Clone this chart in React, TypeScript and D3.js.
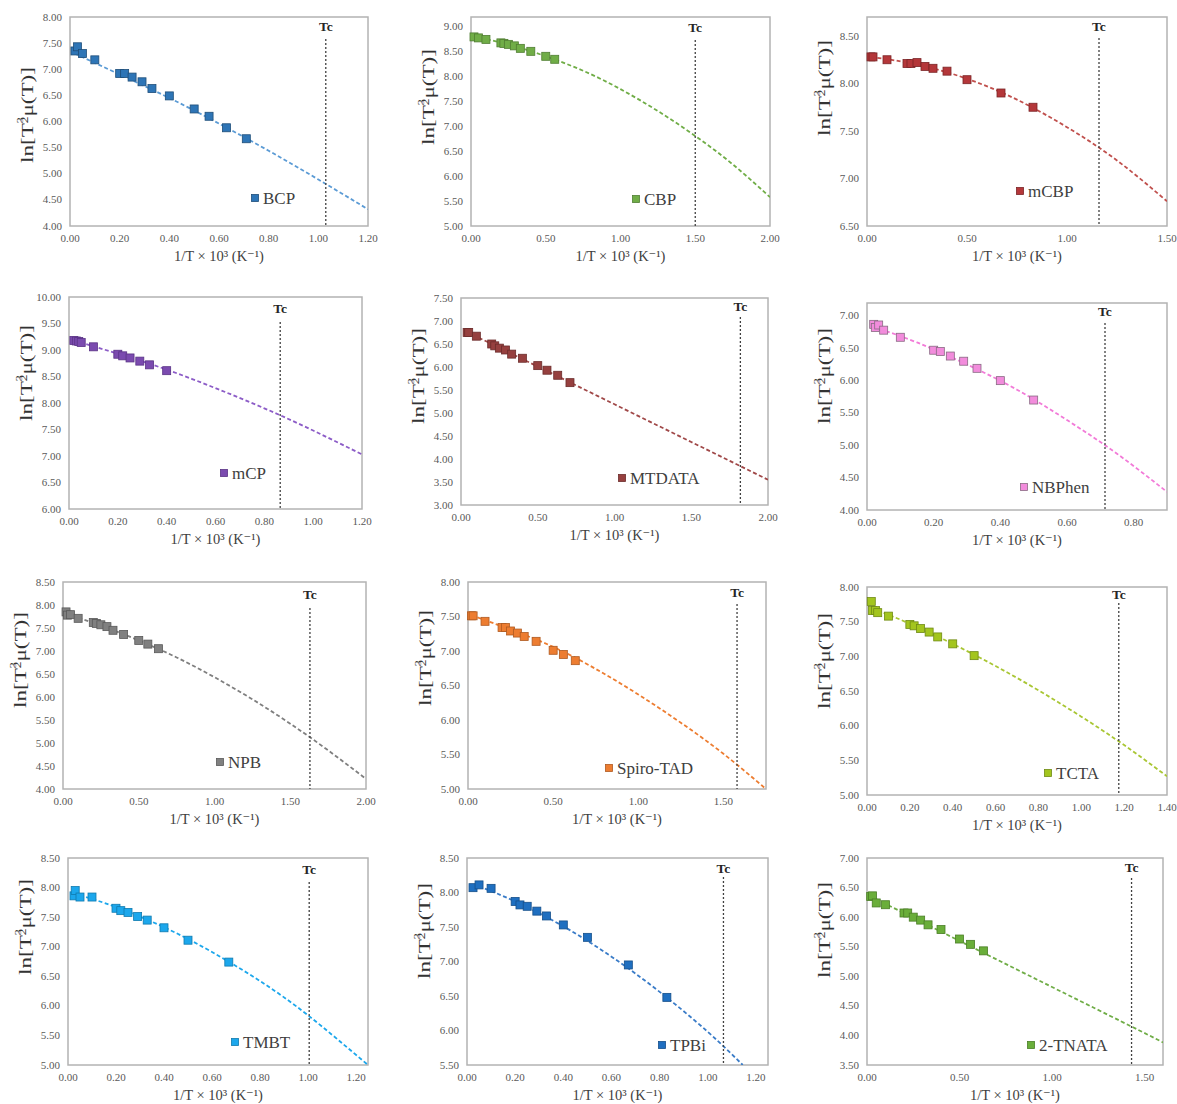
import React from 'react';
import * as d3 from 'd3';

const materials = ['BCP', 'CBP', 'mCBP', 'mCP', 'MTDATA', 'NBPhen', 'NPB', 'Spiro-TAD', 'TCTA', 'TMBT', 'TPBi', '2-TNATA'];

// measured points (x = 1/T x 10^3, y = ln[T^3/2 mu(T)])
const bcpX = [0.02, 0.03, 0.05, 0.10, 0.20, 0.22, 0.25, 0.29, 0.33, 0.40, 0.50, 0.56, 0.63, 0.71];
const bcpY = [7.35, 7.43, 7.30, 7.18, 6.92, 6.92, 6.85, 6.76, 6.63, 6.49, 6.24, 6.10, 5.88, 5.67];
const cbpX = [0.02, 0.05, 0.10, 0.20, 0.22, 0.25, 0.29, 0.33, 0.40, 0.50, 0.56];
const cbpY = [8.80, 8.78, 8.75, 8.68, 8.67, 8.65, 8.62, 8.57, 8.51, 8.41, 8.35];
const mcbpX = [0.02, 0.03, 0.10, 0.20, 0.22, 0.25, 0.29, 0.33, 0.40, 0.50, 0.67, 0.83];
const mcbpY = [8.28, 8.28, 8.25, 8.21, 8.21, 8.22, 8.18, 8.16, 8.13, 8.04, 7.90, 7.75];
const mcpX = [0.02, 0.03, 0.04, 0.05, 0.10, 0.20, 0.22, 0.25, 0.29, 0.33, 0.40];
const mcpY = [9.18, 9.17, 9.16, 9.14, 9.06, 8.92, 8.89, 8.85, 8.79, 8.72, 8.61];
const mtdataX = [0.04, 0.05, 0.10, 0.20, 0.22, 0.25, 0.29, 0.33, 0.40, 0.50, 0.56, 0.63, 0.71];
const mtdataY = [6.75, 6.75, 6.67, 6.50, 6.46, 6.41, 6.37, 6.28, 6.19, 6.03, 5.93, 5.82, 5.66];
const nbphenX = [0.02, 0.025, 0.035, 0.05, 0.10, 0.20, 0.22, 0.25, 0.29, 0.33, 0.40, 0.50];
const nbphenY = [6.87, 6.82, 6.86, 6.78, 6.67, 6.47, 6.45, 6.38, 6.30, 6.19, 6.00, 5.70];
const npbX = [0.02, 0.03, 0.05, 0.10, 0.20, 0.22, 0.25, 0.29, 0.33, 0.40, 0.50, 0.56, 0.63];
const npbY = [7.85, 7.78, 7.79, 7.71, 7.62, 7.60, 7.57, 7.53, 7.45, 7.36, 7.23, 7.15, 7.05];
const spiroX = [0.02, 0.03, 0.10, 0.20, 0.22, 0.25, 0.29, 0.33, 0.40, 0.50, 0.56, 0.63];
const spiroY = [7.51, 7.51, 7.43, 7.34, 7.34, 7.29, 7.26, 7.21, 7.14, 7.01, 6.95, 6.86];
const tctaX = [0.02, 0.025, 0.04, 0.05, 0.10, 0.20, 0.22, 0.25, 0.29, 0.33, 0.40, 0.50];
const tctaY = [7.79, 7.66, 7.66, 7.63, 7.58, 7.46, 7.44, 7.40, 7.35, 7.28, 7.18, 7.01];
const tmbtX = [0.025, 0.03, 0.05, 0.10, 0.20, 0.22, 0.25, 0.29, 0.33, 0.40, 0.50, 0.67];
const tmbtY = [7.86, 7.95, 7.84, 7.84, 7.65, 7.61, 7.58, 7.51, 7.45, 7.32, 7.11, 6.74];
const tpbiX = [0.025, 0.05, 0.10, 0.20, 0.22, 0.25, 0.29, 0.33, 0.40, 0.50, 0.67, 0.83];
const tpbiY = [8.07, 8.11, 8.06, 7.87, 7.82, 7.80, 7.73, 7.66, 7.53, 7.35, 6.95, 6.48];
const tnataX = [0.02, 0.03, 0.05, 0.10, 0.20, 0.22, 0.25, 0.29, 0.33, 0.40, 0.50, 0.56, 0.63];
const tnataY = [6.35, 6.36, 6.24, 6.21, 6.07, 6.07, 6.00, 5.95, 5.87, 5.79, 5.63, 5.54, 5.43];

// fitted dashed curves
const bcpFitX = [0.02, 0.2, 0.4, 0.6, 0.8, 1.0, 1.2];
const bcpFitY = [7.30, 6.90, 6.45, 5.96, 5.44, 4.89, 4.32];
const cbpFitX = [0.02, 0.25, 0.5, 0.75, 1.0, 1.25, 1.5, 1.75, 2.0];
const cbpFitY = [8.80, 8.65, 8.41, 8.12, 7.75, 7.31, 6.81, 6.24, 5.58];
const mcbpFitX = [0.02, 0.25, 0.5, 0.75, 1.0, 1.25, 1.5];
const mcbpFitY = [8.28, 8.20, 8.05, 7.83, 7.54, 7.19, 6.76];
const mcpFitX = [0.02, 0.2, 0.4, 0.6, 0.8, 1.0, 1.2];
const mcpFitY = [9.18, 8.93, 8.63, 8.28, 7.90, 7.48, 7.03];
const mtdataFitX = [0.04, 0.5, 1.0, 1.5, 2.0];
const mtdataFitY = [6.76, 6.01, 5.19, 4.37, 3.55];
const nbphenFitX = [0.02, 0.15, 0.3, 0.45, 0.6, 0.75, 0.9];
const nbphenFitY = [6.83, 6.59, 6.25, 5.86, 5.39, 4.87, 4.28];
const npbFitX = [0.02, 0.25, 0.5, 0.75, 1.0, 1.25, 1.5, 1.75, 2.0];
const npbFitY = [7.81, 7.55, 7.23, 6.86, 6.43, 5.95, 5.42, 4.84, 4.22];
const spiroFitX = [0.02, 0.25, 0.5, 0.75, 1.0, 1.25, 1.5, 1.75];
const spiroFitY = [7.52, 7.31, 7.06, 6.74, 6.37, 5.96, 5.51, 5.00];
const tctaFitX = [0.05, 0.2, 0.4, 0.6, 0.8, 1.0, 1.2, 1.4];
const tctaFitY = [7.66, 7.47, 7.18, 6.86, 6.51, 6.13, 5.72, 5.27];
const tmbtFitX = [0.05, 0.2, 0.4, 0.6, 0.8, 1.0, 1.25];
const tmbtFitY = [7.87, 7.67, 7.33, 6.91, 6.42, 5.84, 5.00];
const tpbiFitX = [0.05, 0.2, 0.4, 0.6, 0.8, 1.0, 1.145];
const tpbiFitY = [8.09, 7.87, 7.51, 7.07, 6.56, 5.98, 5.50];
const tnataFitX = [0.02, 0.8, 1.43, 1.6];
const tnataFitY = [6.35, 5.13, 4.15, 3.88];

const tcValues = [1.03, 1.50, 1.16, 0.865, 1.82, 0.714, 1.63, 1.58, 1.175, 1.005, 1.065, 1.43];
const xMaxes = [1.2, 2.0, 1.5, 1.2, 2.0, 0.9, 2.0, 1.75, 1.4, 1.25, 1.25, 1.6];
const xSteps = [0.2, 0.5, 0.5, 0.2, 0.5, 0.2, 0.5, 0.5, 0.2, 0.2, 0.2, 0.5];
const yMins = [4, 5, 6.5, 6, 3, 4, 4, 5, 5, 5, 5.5, 3.5];
const yTickMaxes = [8, 9, 8.5, 10, 7.5, 7, 8.5, 8, 8, 8.5, 8.5, 7];
const yTops = [8, 9.2, 8.7, 10, 7.5, 7.2, 8.5, 8, 8, 8.5, 8.5, 7];

const pointXs = [bcpX, cbpX, mcbpX, mcpX, mtdataX, nbphenX, npbX, spiroX, tctaX, tmbtX, tpbiX, tnataX];
const pointYs = [bcpY, cbpY, mcbpY, mcpY, mtdataY, nbphenY, npbY, spiroY, tctaY, tmbtY, tpbiY, tnataY];
const fitXs = [bcpFitX, cbpFitX, mcbpFitX, mcpFitX, mtdataFitX, nbphenFitX, npbFitX, spiroFitX, tctaFitX, tmbtFitX, tpbiFitX, tnataFitX];
const fitYs = [bcpFitY, cbpFitY, mcbpFitY, mcpFitY, mtdataFitY, nbphenFitY, npbFitY, spiroFitY, tctaFitY, tmbtFitY, tpbiFitY, tnataFitY];

// styles
const markerFill = ['#2E75B6', '#70AD47', '#B4373A', '#7B4BAF', '#96403F', '#F28CDC', '#808080', '#ED7D31', '#A3C51E', '#1CA7EC', '#1F6FC0', '#6AAE3A'];
const markerStroke = ['#1F4E79', '#507E32', '#7B2527', '#5A3386', '#6B2C2B', '#8A6A84', '#595959', '#AE5A21', '#6F8A14', '#0F7AAF', '#154F8A', '#4A7E26'];
const lineColor = ['#5B9BD5', '#70AD47', '#C0504D', '#8C5CC7', '#A04848', '#F27BD8', '#7F7F7F', '#ED7D31', '#A9C634', '#1CA7EC', '#3A7CC8', '#70AD47'];

// layout: [left, right, top, bottom]
const boxes = [
  [70, 368, 17, 226], [471, 770, 17, 226], [867, 1167, 17, 226],
  [69, 362, 297, 509], [461, 768, 298, 505], [867, 1167, 303, 510],
  [63, 366, 582, 789], [468, 766, 582, 789], [867, 1167, 587, 795],
  [68, 368, 858, 1065], [467, 768, 858, 1065], [867, 1163, 858, 1065],
];
const tcLabelY = [31, 32, 31, 313, 311, 316, 599, 597, 599, 874, 873, 872];
const tcLineTop = [39, 40, 38, 322, 317, 323, 608, 604, 603, 882, 877, 878];
const legendPos = [[255, 198], [636, 199], [1020, 191], [224, 473], [622, 478], [1024, 487], [220, 762], [609, 768], [1048, 773], [235, 1042], [662, 1045], [1031, 1045]];
const yLabelCY = [115, 97, 88, 373, 376, 376, 660, 658, 661, 927, 931, 930];

const SERIF = '"Liberation Serif", "DejaVu Serif", serif';

function Panel({ i }: { i: number }) {
  const [left, right, top, bottom] = boxes[i];
  const xs = d3.scaleLinear().domain([0, xMaxes[i]]).range([left, right]);
  const ys = d3.scaleLinear().domain([yMins[i], yTops[i]]).range([bottom, top]);
  const nX = Math.floor(xMaxes[i] / xSteps[i] + 1e-6);
  const xTicks = d3.range(0, nX + 1).map((k) => k * xSteps[i]);
  const nY = Math.round((yTickMaxes[i] - yMins[i]) / 0.5);
  const yTicks = d3.range(0, nY + 1).map((k) => yMins[i] + k * 0.5);
  const fitData = fitXs[i].map((x, k) => [x, fitYs[i][k]] as [number, number]);
  const line = d3.line<[number, number]>().x((d) => xs(d[0])).y((d) => ys(d[1])).curve(d3.curveNatural);
  const pts = pointXs[i].map((x, k) => [x, pointYs[i][k]]);
  const ms = 8;
  const tcx = xs(tcValues[i]);
  const [lx, ly] = legendPos[i];
  const clipId = `clip${i}`;
  const ylx = left - 43;
  const yly = yLabelCY[i];
  return (
    <g>
      <defs>
        <clipPath id={clipId}>
          <rect x={left} y={top} width={right - left} height={bottom - top} />
        </clipPath>
      </defs>
      <rect x={left} y={top} width={right - left} height={bottom - top} fill="#fff" stroke="#B3B3B3" strokeWidth={1.5} />
      {yTicks.map((t) => (
        <text key={'y' + t} x={left - 8} y={ys(t) + 3.5} textAnchor="end" fontFamily={SERIF} fontSize={11} fill="#595959">
          {t.toFixed(2)}
        </text>
      ))}
      {xTicks.map((t) => (
        <text key={'x' + t} x={xs(t)} y={bottom + 16} textAnchor="middle" fontFamily={SERIF} fontSize={11} fill="#595959">
          {t.toFixed(2)}
        </text>
      ))}
      <text x={(left + right) / 2} y={bottom + 35} textAnchor="middle" fontFamily={SERIF} fontSize={14.5} fill="#404040">
        {'1/T × 10³  (K⁻¹)'}
      </text>
      <g transform={`translate(${ylx},${yly}) rotate(-90) scale(1.4,1)`}>
        <text x={0} y={5.5} textAnchor="middle" fontFamily={SERIF} fontSize={16.5} fill="#333">
          ln[T
          <tspan dy={-10} fontSize={8.5}>3</tspan>
          <tspan dx={-4.3} dy={5.5} fontSize={9.5}>2</tspan>
          <tspan dy={4.5} fontSize={16.5}>μ(T)]</tspan>
        </text>
      </g>
      <g clipPath={`url(#${clipId})`}>
        <path d={line(fitData) || ''} fill="none" stroke={lineColor[i]} strokeWidth={1.8} strokeDasharray="4,2.5" />
      </g>
      <line x1={tcx} x2={tcx} y1={tcLineTop[i]} y2={bottom} stroke="#404040" strokeWidth={1.3} strokeDasharray="2,2" />
      <text x={tcx} y={tcLabelY[i]} textAnchor="middle" fontFamily={SERIF} fontSize={13.5} fontWeight="bold" fill="#262626">
        Tc
      </text>
      {pts.map((p, k) => (
        <rect key={k} x={xs(p[0]) - ms / 2} y={ys(p[1]) - ms / 2} width={ms} height={ms} fill={markerFill[i]} stroke={markerStroke[i]} strokeWidth={0.8} />
      ))}
      <rect x={lx - 3.5} y={ly - 3.5} width={7} height={7} fill={markerFill[i]} stroke={markerStroke[i]} strokeWidth={0.8} />
      <text x={lx + 8} y={ly + 6} fontFamily={SERIF} fontSize={17} fill="#404040">
        {materials[i]}
      </text>
    </g>
  );
}

export default function App() {
  return (
    <svg width={1177} height={1104} style={{ position: 'absolute', left: 0, top: 0, background: '#fff' }}>
      <rect width={1177} height={1104} fill="#fff" />
      {materials.map((m, i) => (
        <Panel key={m} i={i} />
      ))}
    </svg>
  );
}
